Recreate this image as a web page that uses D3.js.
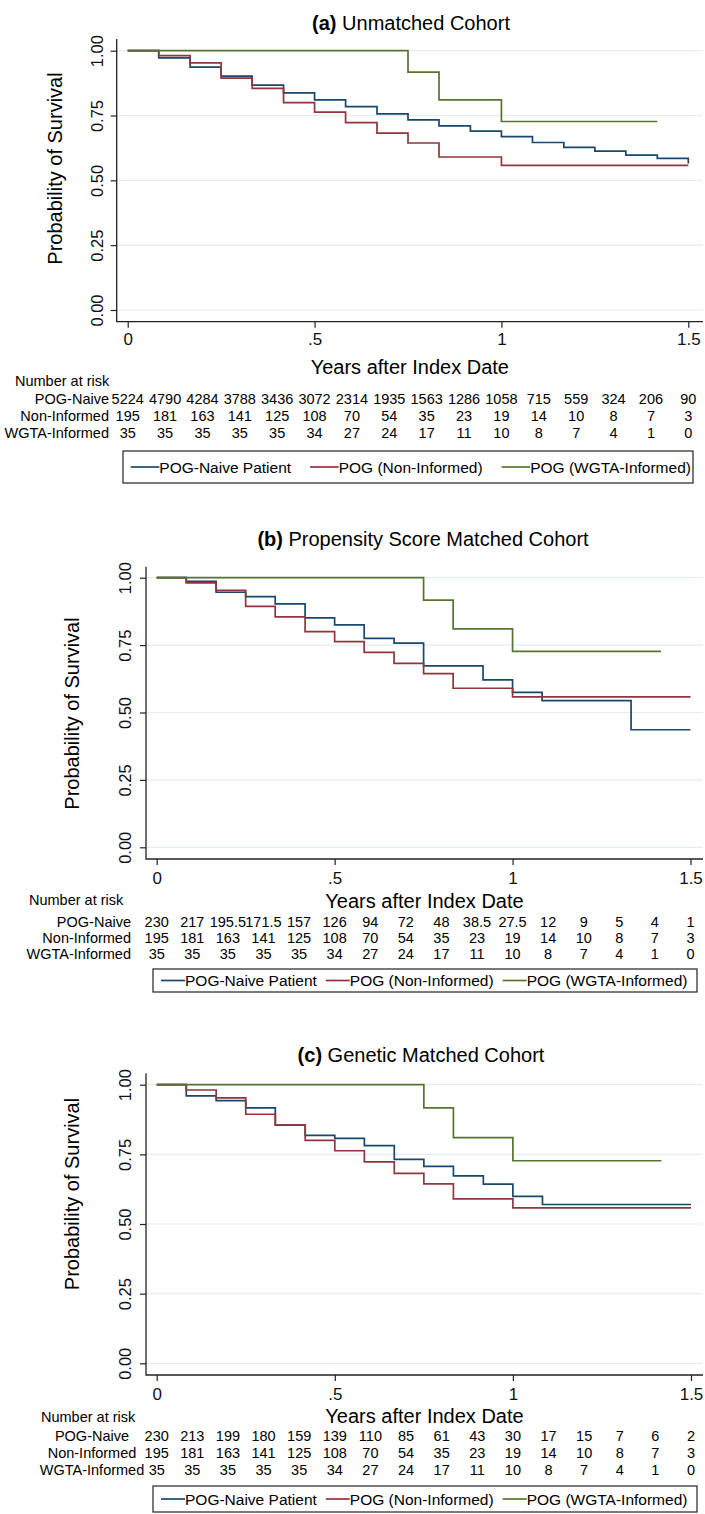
<!DOCTYPE html>
<html>
<head>
<meta charset="utf-8">
<script src="https://cdn.jsdelivr.net/npm/d3@7"></script>
<style>
  body { margin: 0; background: #fff; }
  svg { display: block; font-family: "Liberation Sans", Arial, sans-serif; }
</style>
</head>
<body>
<div id="chart"></div>
<script>
// ---- data ----
// survival steps: [years, probability]
const naiveA = [[0,1],[0.083,0.972],[0.167,0.937],[0.25,0.902],[0.333,0.867],[0.417,0.837],[0.5,0.810],[0.583,0.784],[0.667,0.756],[0.75,0.733],[0.833,0.710],[0.917,0.690],[1.0,0.669],[1.083,0.646],[1.167,0.627],[1.25,0.613],[1.333,0.597],[1.417,0.585],[1.5,0.565]];
const naiveB = [[0,1],[0.083,0.986],[0.167,0.946],[0.25,0.930],[0.333,0.903],[0.417,0.851],[0.5,0.825],[0.583,0.775],[0.667,0.757],[0.75,0.673],[0.917,0.621],[1.0,0.575],[1.083,0.544],[1.333,0.436],[1.5,0.436]];
const naiveC = [[0,1],[0.083,0.960],[0.167,0.943],[0.25,0.917],[0.333,0.855],[0.417,0.818],[0.5,0.807],[0.583,0.781],[0.667,0.732],[0.75,0.707],[0.833,0.673],[0.917,0.643],[1.0,0.599],[1.083,0.570],[1.5,0.570]];
const nonInformed = [[0,1],[0.083,0.981],[0.167,0.953],[0.25,0.894],[0.333,0.855],[0.417,0.800],[0.5,0.763],[0.583,0.723],[0.667,0.682],[0.75,0.644],[0.833,0.590],[1.0,0.558],[1.5,0.558]];
const wgtaInformed = [[0,1],[0.75,0.917],[0.833,0.810],[1.0,0.727],[1.417,0.727]];

// number at risk
const riskTimes = [0,0.1,0.2,0.3,0.4,0.5,0.6,0.7,0.8,0.9,1.0,1.1,1.2,1.3,1.4,1.5];
const riskNaiveA = ["5224","4790","4284","3788","3436","3072","2314","1935","1563","1286","1058","715","559","324","206","90"];
const riskNaiveB = ["230","217","195.5","171.5","157","126","94","72","48","38.5","27.5","12","9","5","4","1"];
const riskNaiveC = ["230","213","199","180","159","139","110","85","61","43","30","17","15","7","6","2"];
const riskNonInf = ["195","181","163","141","125","108","70","54","35","23","19","14","10","8","7","3"];
const riskWgta   = ["35","35","35","35","35","34","27","24","17","11","10","8","7","4","1","0"];

const yTicks = [0, 0.25, 0.5, 0.75, 1];
const xTicks = [0, 0.5, 1, 1.5];
const xTickLabels = ["0", ".5", "1", "1.5"];
const seriesNames = ["POG-Naive Patient", "POG (Non-Informed)", "POG (WGTA-Informed)"];
const riskLabels = ["POG-Naive", "Non-Informed", "WGTA-Informed"];
const colors = ["#1a476f", "#90353b", "#55752f"];

const panels = [
  { tag: "(a)", title: "Unmatched Cohort", naive: naiveA, risk: riskNaiveA,
    lay: { axisX: 116.7, top: 39, axisY: 321.7, x0: 127.7, x1: 688.3, y1: 50.7, y0: 310,
           titleX: 411, titleY: 23, ytX: 55, ytY: 168.5, ylabX: 96.7, xlabY: 340, xtY: 366.7,
           nrX: 15, nrY: 381, rowY: [399, 416, 433], rowX: 109, rowAnchor: "end",
           legX0: 123, legX1: 693, legY0: 451, legY1: 483, legStart: 130.7, legLine: 28.6, legGap: 19 } },
  { tag: "(b)", title: "Propensity Score Matched Cohort", naive: naiveB, risk: riskNaiveB,
    lay: { axisX: 146, top: 566.7, axisY: 859, x0: 156.7, x1: 690.5, y1: 577.7, y0: 847.3,
           titleX: 423, titleY: 539, ytX: 71.7, ytY: 713.5, ylabX: 125, xlabY: 878, xtY: 901,
           nrX: 29, nrY: 900, rowY: [921.7, 938.3, 954.3], rowX: 131, rowAnchor: "end",
           legX0: 153, legX1: 697, legY0: 969, legY1: 992, legStart: 161, legLine: 24, legGap: 9 } },
  { tag: "(c)", title: "Genetic Matched Cohort", naive: naiveC, risk: riskNaiveC,
    lay: { axisX: 146, top: 1073.3, axisY: 1375, x0: 156.7, x1: 691, y1: 1084.7, y0: 1363.3,
           titleX: 421, titleY: 1055, ytX: 71.7, ytY: 1194, ylabX: 125, xlabY: 1394, xtY: 1416,
           nrX: 41, nrY: 1417, rowY: [1436, 1452.7, 1470], rowX: 92, rowAnchor: "middle",
           legX0: 153, legX1: 697, legY0: 1486, legY1: 1512, legStart: 161, legLine: 24, legGap: 9 } }
];

const width = 705, height = 1514;
const svg = d3.select("#chart").append("svg")
  .attr("width", width)
  .attr("height", height);

panels.forEach(drawPanel);

function drawPanel(p) {
  const L = p.lay;
  const g = svg.append("g");

  const x = d3.scaleLinear().domain([0, 1.5]).range([L.x0, L.x1]);
  const y = d3.scaleLinear().domain([0, 1]).range([L.y0, L.y1]);

  // title
  const t = g.append("text")
    .attr("x", L.titleX).attr("y", L.titleY)
    .attr("text-anchor", "middle").attr("dominant-baseline", "central")
    .style("font-size", "20px");
  t.append("tspan").attr("font-weight", "bold").text(p.tag);
  t.append("tspan").text("\u00a0" + p.title);

  // gridlines
  g.selectAll(".grid").data(yTicks).join("line")
    .attr("class", "grid")
    .attr("x1", L.axisX).attr("x2", 703)
    .attr("y1", d => y(d)).attr("y2", d => y(d))
    .attr("stroke", "#e5edf1").attr("stroke-width", 1.2);

  // y axis
  const yAx = g.append("g")
    .attr("transform", `translate(${L.axisX},0)`)
    .call(d3.axisLeft(y).tickValues(yTicks).tickFormat(d3.format(".2f")).tickSize(6));
  yAx.select(".domain").remove();
  yAx.selectAll("line").attr("stroke", "#222").attr("stroke-width", 1.2);
  yAx.selectAll("text")
    .attr("x", null).attr("dy", null).attr("y", null)
    .attr("fill", "#111").style("font-size", "16.5px")
    .attr("text-anchor", "middle").attr("dominant-baseline", "central")
    .attr("transform", `translate(${L.ylabX - L.axisX},0) rotate(-90)`);

  // x axis
  const xAx = g.append("g")
    .attr("transform", `translate(0,${L.axisY})`)
    .call(d3.axisBottom(x).tickValues(xTicks).tickFormat((d, i) => xTickLabels[i]).tickSize(6));
  xAx.select(".domain").remove();
  xAx.selectAll("line").attr("stroke", "#222").attr("stroke-width", 1.2);
  xAx.selectAll("text")
    .attr("dy", null).attr("y", L.xlabY - L.axisY)
    .attr("dominant-baseline", "central")
    .attr("fill", "#111").style("font-size", "17px");

  // axis lines
  g.append("path")
    .attr("d", `M${L.axisX},${L.top}V${L.axisY}H703`)
    .attr("fill", "none").attr("stroke", "#222").attr("stroke-width", 1.3);

  // axis titles
  g.append("text")
    .attr("transform", `translate(${L.ytX},${L.ytY}) rotate(-90)`)
    .attr("text-anchor", "middle").attr("dominant-baseline", "central")
    .style("font-size", "20px")
    .text("Probability of Survival");

  g.append("text")
    .attr("x", (L.axisX + 703) / 2).attr("y", L.xtY)
    .attr("text-anchor", "middle").attr("dominant-baseline", "central")
    .style("font-size", "20px")
    .text("Years after Index Date");

  // survival curves
  const line = d3.line()
    .x(d => x(d[0]))
    .y(d => y(d[1]))
    .curve(d3.curveStepAfter);

  const curves = [p.naive, nonInformed, wgtaInformed];
  g.selectAll(".km").data(curves).join("path")
    .attr("class", "km")
    .attr("d", line)
    .attr("fill", "none")
    .attr("stroke", (d, i) => colors[i])
    .attr("stroke-width", 1.7);

  // number at risk table
  g.append("text")
    .attr("x", L.nrX).attr("y", L.nrY)
    .attr("dominant-baseline", "central")
    .style("font-size", "14.5px")
    .text("Number at risk");

  const rows = [p.risk, riskNonInf, riskWgta];
  rows.forEach((vals, r) => {
    g.append("text")
      .attr("x", L.rowX).attr("y", L.rowY[r])
      .attr("text-anchor", L.rowAnchor).attr("dominant-baseline", "central")
      .style("font-size", "14.5px")
      .text(riskLabels[r]);
    g.selectAll(".risk" + r).data(vals).join("text")
      .attr("class", "risk" + r)
      .attr("x", (d, i) => x(riskTimes[i]))
      .attr("y", L.rowY[r])
      .attr("text-anchor", "middle").attr("dominant-baseline", "central")
      .style("font-size", "14.5px")
      .text(d => d);
  });

  // legend
  g.append("rect")
    .attr("x", L.legX0).attr("y", L.legY0)
    .attr("width", L.legX1 - L.legX0).attr("height", L.legY1 - L.legY0)
    .attr("fill", "#fff").attr("stroke", "#222").attr("stroke-width", 1.2);

  const legY = (L.legY0 + L.legY1) / 2;
  let cx = L.legStart;
  seriesNames.forEach((name, i) => {
    g.append("line")
      .attr("x1", cx).attr("x2", cx + L.legLine)
      .attr("y1", legY).attr("y2", legY)
      .attr("stroke", colors[i]).attr("stroke-width", 1.7);
    const txt = g.append("text")
      .attr("x", cx + L.legLine).attr("y", legY)
      .attr("dominant-baseline", "central")
      .style("font-size", "15.5px")
      .text(name);
    cx += L.legLine + txt.node().getComputedTextLength() + L.legGap;
  });
}
</script>
</body>
</html>
